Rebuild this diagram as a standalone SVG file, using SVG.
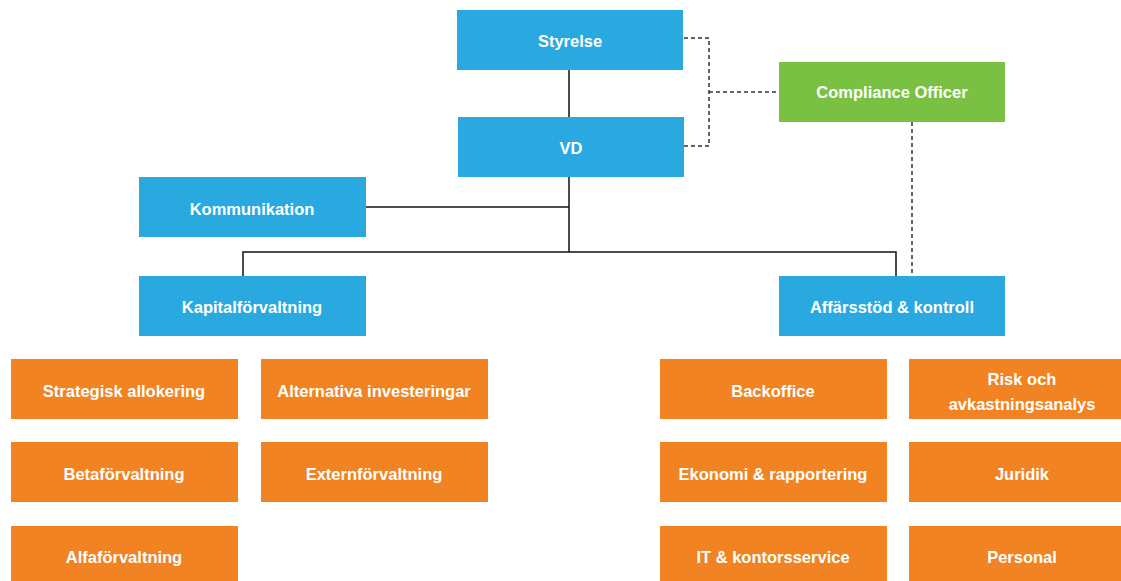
<svg xmlns="http://www.w3.org/2000/svg" width="1121" height="581" viewBox="0 0 1121 581">
<style>
.b{fill:#29A9E0}.g{fill:#7AC143}.o{fill:#F28322}
text{font-family:"Liberation Sans",Arial,sans-serif;font-weight:bold;font-size:16.5px;fill:#fff;text-anchor:middle}
.s{fill:none;stroke:#111;stroke-width:1.5}
.d{fill:none;stroke:#333;stroke-width:1.5;stroke-dasharray:4 3}
</style>
<rect width="1121" height="581" fill="#fff"/>
<g id="connectors">
<path class="s" d="M569 70V117M569 177V252M366 207H569M243 276V252H896V276"/>
<path class="d" d="M684 38H709V146H684M709 92H779M912 122V276"/>
</g>
<g id="styrelse"><rect class="b" x="457" y="10" width="226" height="60"/><text x="570" y="47">Styrelse</text></g>
<g id="vd"><rect class="b" x="458" y="117" width="226" height="60"/><text x="571" y="154">VD</text></g>
<g id="compliance"><rect class="g" x="779" y="62" width="226" height="60"/><text x="892" y="98">Compliance Officer</text></g>
<g id="kommunikation"><rect class="b" x="139" y="177" width="227" height="60"/><text x="252" y="215">Kommunikation</text></g>
<g id="kapital"><rect class="b" x="139" y="276" width="227" height="60"/><text x="252" y="313">Kapitalförvaltning</text></g>
<g id="affarsstod"><rect class="b" x="779" y="276" width="226" height="60"/><text x="892" y="313">Affärsstöd &amp; kontroll</text></g>
<g id="strategisk"><rect class="o" x="11" y="359" width="227" height="60"/><text x="124" y="397">Strategisk allokering</text></g>
<g id="alternativa"><rect class="o" x="261" y="359" width="227" height="60"/><text x="374" y="397">Alternativa investeringar</text></g>
<g id="beta"><rect class="o" x="11" y="442" width="227" height="60"/><text x="124" y="480">Betaförvaltning</text></g>
<g id="extern"><rect class="o" x="261" y="442" width="227" height="60"/><text x="374" y="480">Externförvaltning</text></g>
<g id="alfa"><rect class="o" x="11" y="526" width="227" height="60"/><text x="124" y="563">Alfaförvaltning</text></g>
<g id="backoffice"><rect class="o" x="660" y="359" width="227" height="60"/><text x="773" y="397">Backoffice</text></g>
<g id="risk"><rect class="o" x="909" y="359" width="226" height="60"/><text x="1022" y="385">Risk och</text><text x="1022" y="410">avkastningsanalys</text></g>
<g id="ekonomi"><rect class="o" x="660" y="442" width="227" height="60"/><text x="773" y="480">Ekonomi &amp; rapportering</text></g>
<g id="juridik"><rect class="o" x="909" y="442" width="226" height="60"/><text x="1022" y="480">Juridik</text></g>
<g id="it"><rect class="o" x="660" y="526" width="227" height="60"/><text x="773" y="563">IT &amp; kontorsservice</text></g>
<g id="personal"><rect class="o" x="909" y="526" width="226" height="60"/><text x="1022" y="563">Personal</text></g>
</svg>
